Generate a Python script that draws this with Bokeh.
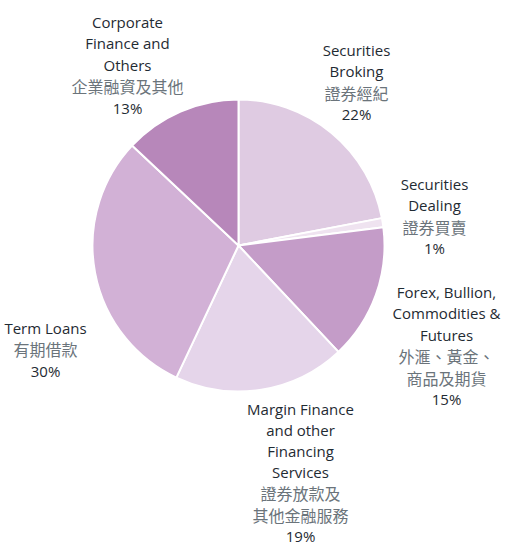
import math
from bokeh.plotting import figure
from bokeh.models import ColumnDataSource
from bokeh.core.properties import value
from bokeh.embed import file_html
from bokeh.resources import INLINE

# ---- data ----
segments = ["Securities Broking", "Securities Dealing", "Forex, Bullion, Commodities & Futures",
            "Margin Finance and other Financing Services", "Term Loans", "Corporate Finance and Others"]
shares = [22, 1, 15, 19, 30, 13]
colors = ["#dfcbe2", "#efe3f0", "#c49cc8", "#e5d5ea", "#d2b1d6", "#b787ba"]

en_labels = [["Securities", "Broking"],
             ["Securities", "Dealing"],
             ["Forex, Bullion,", "Commodities &", "Futures"],
             ["Margin Finance", "and other", "Financing", "Services"],
             ["Term Loans"],
             ["Corporate", "Finance and", "Others"]]
zh_labels = [["證券經紀"],
             ["證券買賣"],
             ["外滙、黃金、", "商品及期貨"],
             ["證券放款及", "其他金融服務"],
             ["有期借款"],
             ["企業融資及其他"]]

# ---- layout (pixels, origin top-left of the picture) ----
W, H = 506, 546
cx, cy, r = 238, H - 245, 146
label_x = [356, 434, 446, 300, 45, 127]
label_top = [49, 183, 291, 408, 327, 21]
line_hs = [21.5, 21.5, 21.5, 21.2, 21.5, 21.5]

total = sum(shares)
starts, ends = [], []
acc = 0.0
for s in shares:
    starts.append(math.pi / 2 - 2 * math.pi * acc / total)
    acc += s
    ends.append(math.pi / 2 - 2 * math.pi * acc / total)

p = figure(width=W, height=H, x_range=(0, W), y_range=(0, H),
           output_backend="svg", toolbar_location=None, min_border=0)
p.axis.visible = False
p.grid.visible = False
p.outline_line_color = None
p.background_fill_color = "white"

src = ColumnDataSource(dict(start=starts, end=ends, color=colors, name=segments))
p.wedge(x=cx, y=cy, radius=r, start_angle="start", end_angle="end", direction="clock",
        fill_color="color", line_color="white", line_width=2, source=src)

en_x, en_y, en_t = [], [], []
zh_x, zh_y, zh_t = [], [], []
pc_x, pc_y, pc_t = [], [], []
for i in range(len(segments)):
    py = label_top[i]
    lh = line_hs[i]
    for t in en_labels[i]:
        en_x.append(label_x[i]); en_y.append(H - py); en_t.append(t); py += lh
    for t in zh_labels[i]:
        zh_x.append(label_x[i]); zh_y.append(H - py); zh_t.append(t); py += lh
    pc_x.append(label_x[i]); pc_y.append(H - py); pc_t.append(f"{shares[i]}%")

p.text(x=en_x, y=en_y, text=en_t, text_align="center", text_baseline="middle",
       text_font=value("Open Sans"), text_font_size="15px", text_color="#1f2b33")
p.text(x=zh_x, y=zh_y, text=zh_t, text_align="center", text_baseline="middle",
       text_font=value("Noto Sans CJK TC"), text_font_size="16px", text_color="#6b747b")
p.text(x=pc_x, y=pc_y, text=pc_t, text_align="center", text_baseline="middle",
       text_font=value("Open Sans"), text_font_size="15px", text_color="#1f2b33")

open("out.html", "w").write(file_html(p, INLINE))
